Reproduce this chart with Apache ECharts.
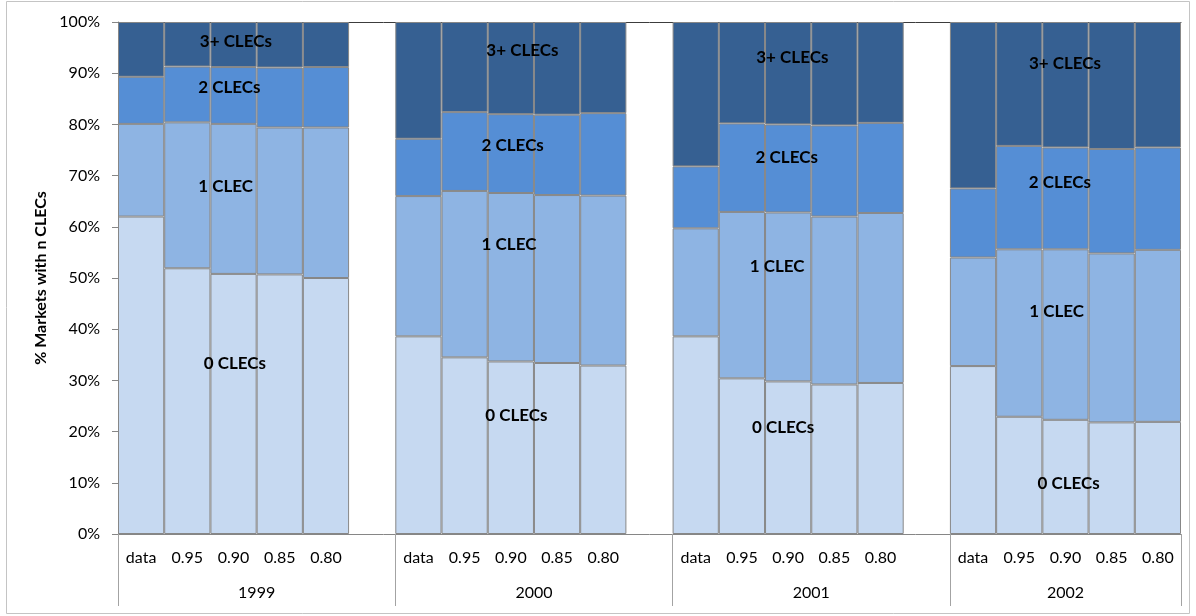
<!DOCTYPE html>
<html>
<head>
<meta charset="utf-8">
<script src="https://cdn.jsdelivr.net/npm/echarts@6/dist/echarts.min.js"></script>
<style>
  html, body { margin: 0; padding: 0; background: #fff; }
  #chart { width: 1196px; height: 616px; }
</style>
</head>
<body>
<div id="chart"></div>
<script>
// ---- data ----
const years = ['1999', '2000', '2001', '2002'];
const scenarios = ['data', '0.95', '0.90', '0.85', '0.80'];

// values per bar, in order 1999(data,0.95,0.90,0.85,0.80), 2000(...), 2001(...), 2002(...)
const zeroCLECs      = [62.0, 51.9, 50.8, 50.7, 50.0,  38.6, 34.5, 33.7, 33.4, 32.9,  38.6, 30.4, 29.8, 29.2, 29.5,  32.8, 22.9, 22.3, 21.8, 21.9];
const oneCLEC        = [18.1, 28.5, 29.3, 28.7, 29.4,  27.4, 32.5, 32.9, 32.8, 33.2,  21.1, 32.5, 33.0, 32.8, 33.2,  21.2, 32.7, 33.3, 33.0, 33.6];
const twoCLECs       = [ 9.2, 10.9, 11.1, 11.7, 11.8,  11.2, 15.4, 15.4, 15.7, 16.1,  12.1, 17.3, 17.2, 17.8, 17.6,  13.5, 20.2, 19.9, 20.4, 20.0];
const threePlusCLECs = [10.7,  8.7,  8.8,  8.9,  8.8,  22.8, 17.6, 18.0, 18.1, 17.8,  28.2, 19.8, 20.0, 20.2, 19.7,  32.5, 24.2, 24.5, 24.8, 24.5];

const seriesNames = ['0 CLECs', '1 CLEC', '2 CLECs', '3+ CLECs'];
const yTicks = [0, 10, 20, 30, 40, 50, 60, 70, 80, 90, 100];

// in-chart annotation text (x in category units along the axis, y in %)
const annoText = ['3+ CLECs', '2 CLECs', '1 CLEC', '0 CLECs',
                  '3+ CLECs', '2 CLECs', '1 CLEC', '0 CLECs',
                  '3+ CLECs', '2 CLECs', '1 CLEC', '0 CLECs',
                  '3+ CLECs', '2 CLECs', '1 CLEC', '0 CLECs'];
const annoX = [2.55, 2.41, 2.33, 2.53,  8.75, 8.54, 8.46, 8.62,  14.59, 14.47, 14.26, 14.39,  20.49, 20.38, 20.31, 20.57];
const annoY = [96.1, 87.2, 67.8, 33.3,  94.4, 75.8, 56.6, 23.2,  93.1, 73.6, 52.2, 20.8,  91.9, 68.7, 43.5, 9.9];

// ---- build category axis with a gap slot between year groups ----
const categories = [];
const groupStart = [];
years.forEach((y, yi) => {
  groupStart.push(categories.length);
  scenarios.forEach(s => categories.push(s));
  if (yi < years.length - 1) categories.push('');
});
const nCat = categories.length;
function withGaps(arr) {
  const out = [];
  let k = 0;
  years.forEach((y, yi) => {
    scenarios.forEach(() => { out.push(arr[k++]); });
    if (yi < years.length - 1) out.push('-');
  });
  return out;
}
// year label positions (centre of each group's span, including the trailing gap slot)
const yearPos = {};
years.forEach((y, yi) => {
  const start = groupStart[yi];
  const end = yi < years.length - 1 ? groupStart[yi + 1] : nCat;
  yearPos[((start + end) / 2).toFixed(1)] = y;
});

const colors = ['#C6D9F1', '#8EB4E3', '#558ED5', '#366092'];
const seriesData = [zeroCLECs, oneCLEC, twoCLECs, threePlusCLECs];
const FONT = 'Lato, "Open Sans", sans-serif';

const barSeries = seriesNames.map((name, i) => ({
  name: name,
  type: 'bar',
  stack: 'total',
  xAxisIndex: 0,
  yAxisIndex: 0,
  barCategoryGap: '0%',
  data: withGaps(seriesData[i]),
  itemStyle: { color: colors[i], borderColor: '#878787', borderWidth: 1 },
  emphasis: { disabled: true },
  silent: true
}));

const annoSeries = {
  type: 'scatter',
  xAxisIndex: 1,
  yAxisIndex: 0,
  symbolSize: 1,
  itemStyle: { color: 'rgba(0,0,0,0)' },
  silent: true,
  z: 10,
  data: annoText.map((t, i) => ({ value: [annoX[i], annoY[i]], name: t })),
  label: {
    show: true,
    position: 'inside',
    formatter: p => p.name,
    color: '#000',
    opacity: 1,
    fontFamily: FONT,
    fontWeight: 'bold',
    fontSize: 17
  }
};

const chart = echarts.init(document.getElementById('chart'), null, { renderer: 'canvas' });
chart.setOption({
  animation: false,
  backgroundColor: '#fff',
  textStyle: { fontFamily: FONT },
  graphic: [{
    type: 'rect',
    shape: { x: 6.5, y: 1.5, width: 1183, height: 612 },
    style: { fill: 'none', stroke: '#c4c4c4', lineWidth: 1 },
    silent: true,
    z: -10
  }],
  grid: { left: 118, right: 15, top: 22, bottom: 82, containLabel: false },
  xAxis: [
    {
      type: 'category',
      data: categories,
      position: 'bottom',
      axisLine: { show: true, lineStyle: { color: '#868686', width: 1 } },
      axisTick: {
        show: true,
        interval: (idx) => groupStart.indexOf(idx) >= 0,
        length: 72,
        lineStyle: { color: '#a3a3a3', width: 1 }
      },
      axisLabel: { interval: 0, margin: 16, fontSize: 16, color: '#000', fontFamily: FONT },
      splitLine: { show: false }
    },
    {
      type: 'value',
      min: 0,
      max: nCat,
      interval: 0.5,
      position: 'bottom',
      axisLine: { show: false },
      axisTick: { show: false },
      splitLine: { show: false },
      axisLabel: {
        margin: 51,
        fontSize: 16,
        color: '#000',
        fontFamily: FONT,
        formatter: v => yearPos[v.toFixed(1)] || ''
      }
    },
    {
      type: 'category',
      data: categories,
      position: 'top',
      axisLine: { show: true, lineStyle: { color: '#3c3c3c', width: 1 } },
      axisTick: { show: false },
      axisLabel: { show: false },
      splitLine: { show: false }
    }
  ],
  yAxis: {
    type: 'value',
    min: yTicks[0],
    max: yTicks[yTicks.length - 1],
    interval: 10,
    name: '% Markets with n CLECs',
    nameLocation: 'middle',
    nameGap: 62,
    nameTextStyle: { fontFamily: FONT, fontWeight: 'bold', fontSize: 16, color: '#000' },
    axisLine: { show: true, lineStyle: { color: '#868686', width: 1 } },
    axisTick: { show: true, length: 6, lineStyle: { color: '#868686' } },
    axisLabel: { formatter: '{value}%', fontSize: 16, color: '#000', margin: 18, fontFamily: FONT },
    splitLine: { show: false }
  },
  series: barSeries.concat([annoSeries])
});
</script>
</body>
</html>
